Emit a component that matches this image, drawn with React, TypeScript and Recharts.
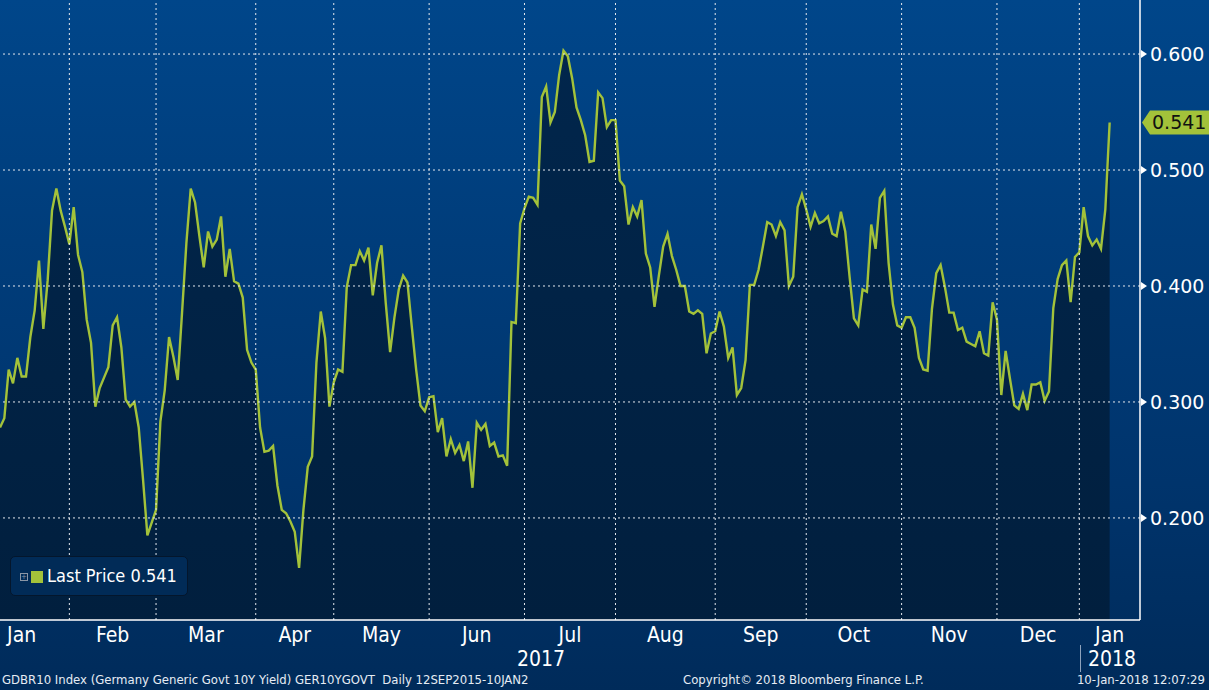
import { AreaChart, Area, XAxis, YAxis, ReferenceLine } from 'recharts';

// Germany generic 10Y yield, daily closes (one array per month)
const jan17 = [0.278, 0.286, 0.328, 0.316, 0.338, 0.322, 0.322, 0.356, 0.379, 0.422, 0.363, 0.405, 0.465, 0.484, 0.465, 0.451];
const feb17 = [0.436, 0.468, 0.427, 0.412, 0.371, 0.351, 0.296, 0.312, 0.321, 0.330, 0.366, 0.373, 0.347, 0.302, 0.296, 0.300, 0.278, 0.233, 0.185, 0.196];
const mar17 = [0.207, 0.283, 0.310, 0.356, 0.339, 0.319, 0.377, 0.437, 0.484, 0.472, 0.443, 0.416, 0.447, 0.434, 0.440, 0.460, 0.408, 0.432, 0.404, 0.402, 0.390, 0.345, 0.334];
const apr17 = [0.328, 0.278, 0.257, 0.258, 0.262, 0.228, 0.207, 0.204, 0.197, 0.188, 0.157, 0.207, 0.244, 0.253, 0.334, 0.378, 0.355, 0.296];
const may17 = [0.317, 0.328, 0.326, 0.399, 0.418, 0.418, 0.430, 0.422, 0.433, 0.392, 0.420, 0.435, 0.385, 0.343, 0.373, 0.397, 0.409, 0.403, 0.365, 0.328, 0.297, 0.292];
const jun17 = [0.304, 0.305, 0.274, 0.286, 0.253, 0.268, 0.256, 0.263, 0.249, 0.266, 0.226, 0.282, 0.276, 0.281, 0.262, 0.265, 0.253, 0.254, 0.245, 0.369, 0.368, 0.454];
const jul17 = [0.467, 0.477, 0.476, 0.470, 0.563, 0.572, 0.541, 0.550, 0.582, 0.603, 0.598, 0.579, 0.554, 0.543, 0.530, 0.507, 0.508, 0.567, 0.562, 0.537, 0.543];
const aug17 = [0.543, 0.491, 0.486, 0.453, 0.468, 0.460, 0.474, 0.428, 0.416, 0.382, 0.409, 0.434, 0.445, 0.426, 0.414, 0.400, 0.400, 0.378, 0.376, 0.379, 0.376, 0.342, 0.359];
const sep17 = [0.361, 0.378, 0.365, 0.338, 0.347, 0.306, 0.312, 0.336, 0.401, 0.401, 0.414, 0.434, 0.455, 0.453, 0.443, 0.455, 0.448, 0.400, 0.408, 0.468, 0.479];
const oct17 = [0.466, 0.451, 0.463, 0.454, 0.456, 0.460, 0.445, 0.443, 0.464, 0.447, 0.408, 0.372, 0.366, 0.397, 0.395, 0.453, 0.432, 0.476, 0.482, 0.420, 0.384, 0.366];
const nov17 = [0.364, 0.373, 0.373, 0.364, 0.338, 0.328, 0.327, 0.380, 0.411, 0.418, 0.399, 0.377, 0.377, 0.362, 0.364, 0.352, 0.350, 0.348, 0.361, 0.342, 0.340, 0.386];
const dec17 = [0.371, 0.306, 0.344, 0.320, 0.297, 0.294, 0.307, 0.293, 0.315, 0.315, 0.317, 0.301, 0.309, 0.381, 0.406, 0.418, 0.422, 0.386, 0.425];
const jan18 = [0.429, 0.468, 0.443, 0.435, 0.440, 0.432, 0.466, 0.541];

const monthLabels = ['Jan', 'Feb', 'Mar', 'Apr', 'May', 'Jun', 'Jul', 'Aug', 'Sep', 'Oct', 'Nov', 'Dec', 'Jan'];
const monthValues = [jan17, feb17, mar17, apr17, may17, jun17, jul17, aug17, sep17, oct17, nov17, dec17, jan18];
const yTicks = [0.2, 0.3, 0.4, 0.5, 0.6];

const LINE = '#a3c23a';
const FONT = '"DejaVu Sans", sans-serif';
const FONT_C = '"DejaVu Sans Condensed", "DejaVu Sans", sans-serif';
const X_MAX = 263; // axis runs a few sessions past the last print
const JAN_DAYS = 22; // first January is cut off at the left edge

const data: { i: number; v: number }[] = [];
const monthStarts: number[] = [];
monthValues.forEach((vals) => {
    monthStarts.push(data.length);
    vals.forEach((v) => data.push({ i: data.length, v }));
});
const monthEnds = monthStarts.slice(1).concat(X_MAX);
const labelPos = monthStarts.map((s, k) =>
    k === 0 ? monthEnds[0] - JAN_DAYS / 2 : (s + monthEnds[k]) / 2
);
const lastPrice = data[data.length - 1].v;

const MonthTick = (props: any) => {
    const { x, y, payload } = props;
    const k = labelPos.indexOf(payload.value);
    return (
        <text x={x} y={y + 22} textAnchor="middle" fill="#ffffff" fontSize={21} fontFamily={FONT_C}>
            {monthLabels[k]}
        </text>
    );
};

const PriceTick = (props: any) => {
    const { x, y, payload } = props;
    return (
        <g>
            <polygon points={`${x + 1},${y - 4} ${x + 7},${y} ${x + 1},${y + 4}`} fill="#ffffff" />
            <text x={x + 10} y={y + 7} fill="#ffffff" fontSize={19} fontFamily={FONT}>
                {payload.value.toFixed(3)}
            </text>
        </g>
    );
};

const PriceTag = (props: any) => {
    const vb = props.viewBox;
    if (!vb) return null;
    const x = vb.x + vb.width;
    const y = vb.y;
    return (
        <g>
            <polygon
                points={`${x + 2},${y} ${x + 10},${y - 12} ${x + 69},${y - 12} ${x + 69},${y + 12} ${x + 10},${y + 12}`}
                fill={LINE}
            />
            <text x={x + 12} y={y + 7} fill="#111111" fontSize={19} fontFamily={FONT}>
                {lastPrice.toFixed(3)}
            </text>
        </g>
    );
};

const footer = { position: 'absolute' as const, top: 672, fontSize: 13, fontFamily: FONT_C, color: '#e6ecf4', whiteSpace: 'nowrap' as const };

export default function App() {
    return (
        <div
            style={{
                position: 'absolute',
                left: 0,
                top: 0,
                width: 1209,
                height: 690,
                background: 'linear-gradient(180deg, #00468a 0%, #00346c 70%, #002b5a 100%)',
                overflow: 'hidden',
            }}
        >
            <AreaChart width={1209} height={690} data={data} margin={{ top: 0, right: 0, bottom: 0, left: 0 }}>
                <defs>
                    <linearGradient id="areaFill" x1="0" y1="0" x2="0" y2="1">
                        <stop offset="0%" stopColor="#01264c" />
                        <stop offset="100%" stopColor="#011f3e" />
                    </linearGradient>
                </defs>
                <XAxis
                    dataKey="i"
                    type="number"
                    domain={[0, X_MAX]}
                    ticks={labelPos}
                    tick={<MonthTick />}
                    tickLine={false}
                    tickSize={0}
                    tickMargin={0}
                    height={70}
                    axisLine={{ stroke: '#ffffff', strokeWidth: 1.5 }}
                    allowDataOverflow
                    interval={0}
                />
                <YAxis
                    orientation="right"
                    type="number"
                    domain={[0.112, 0.6466]}
                    ticks={yTicks}
                    tick={<PriceTick />}
                    tickLine={false}
                    tickSize={0}
                    tickMargin={0}
                    width={69}
                    axisLine={{ stroke: '#ffffff', strokeWidth: 1.5 }}
                    allowDataOverflow
                    interval={0}
                />
                <Area
                    type="linear"
                    dataKey="v"
                    stroke={LINE}
                    strokeWidth={2.4}
                    fill="url(#areaFill)"
                    fillOpacity={1}
                    isAnimationActive={false}
                    dot={false}
                    activeDot={false}
                />
                {yTicks.map((t) => (
                    <ReferenceLine key={`h${t}`} y={t} stroke="#e4e8ee" strokeDasharray="2 3" />
                ))}
                {monthStarts.slice(1).map((s) => (
                    <ReferenceLine key={`v${s}`} x={s} stroke="#e4e8ee" strokeDasharray="2 3" />
                ))}
                <ReferenceLine y={lastPrice} stroke="none" label={<PriceTag />} />
            </AreaChart>

            {/* legend box */}
            <div
                style={{
                    position: 'absolute',
                    left: 10,
                    top: 556,
                    width: 176,
                    height: 38,
                    background: '#012b57',
                    border: '1px solid #04162c',
                    borderRadius: 5,
                }}
            >
                <div style={{ position: 'absolute', left: 9, top: 16, width: 6, height: 6, border: '1px solid #8a96a6', color: '#8a96a6', fontSize: 7, lineHeight: '6px', textAlign: 'center', fontFamily: FONT }}>+</div>
                <div style={{ position: 'absolute', left: 20, top: 14, width: 12, height: 12, background: LINE }} />
                <div style={{ position: 'absolute', left: 36, top: 8, fontSize: 18, fontFamily: FONT_C, color: '#ffffff', whiteSpace: 'nowrap' }}>
                    Last Price {lastPrice.toFixed(3)}
                </div>
            </div>

            {/* year labels */}
            <div style={{ position: 'absolute', left: 517, top: 647, fontSize: 21, fontFamily: FONT_C, color: '#ffffff' }}>2017</div>
            <div style={{ position: 'absolute', left: 1080, top: 645, width: 1, height: 27, background: '#8ea2bb' }} />
            <div style={{ position: 'absolute', left: 1088, top: 647, fontSize: 21, fontFamily: FONT_C, color: '#ffffff' }}>2018</div>

            {/* footer */}
            <div style={{ ...footer, left: 2 }}>GDBR10 Index (Germany Generic Govt 10Y Yield) GER10YGOVT&nbsp;&nbsp;Daily 12SEP2015-10JAN2</div>
            <div style={{ ...footer, left: 683 }}>Copyright© 2018 Bloomberg Finance L.P.</div>
            <div style={{ ...footer, right: 4 }}>10-Jan-2018 12:07:29</div>
        </div>
    );
}
